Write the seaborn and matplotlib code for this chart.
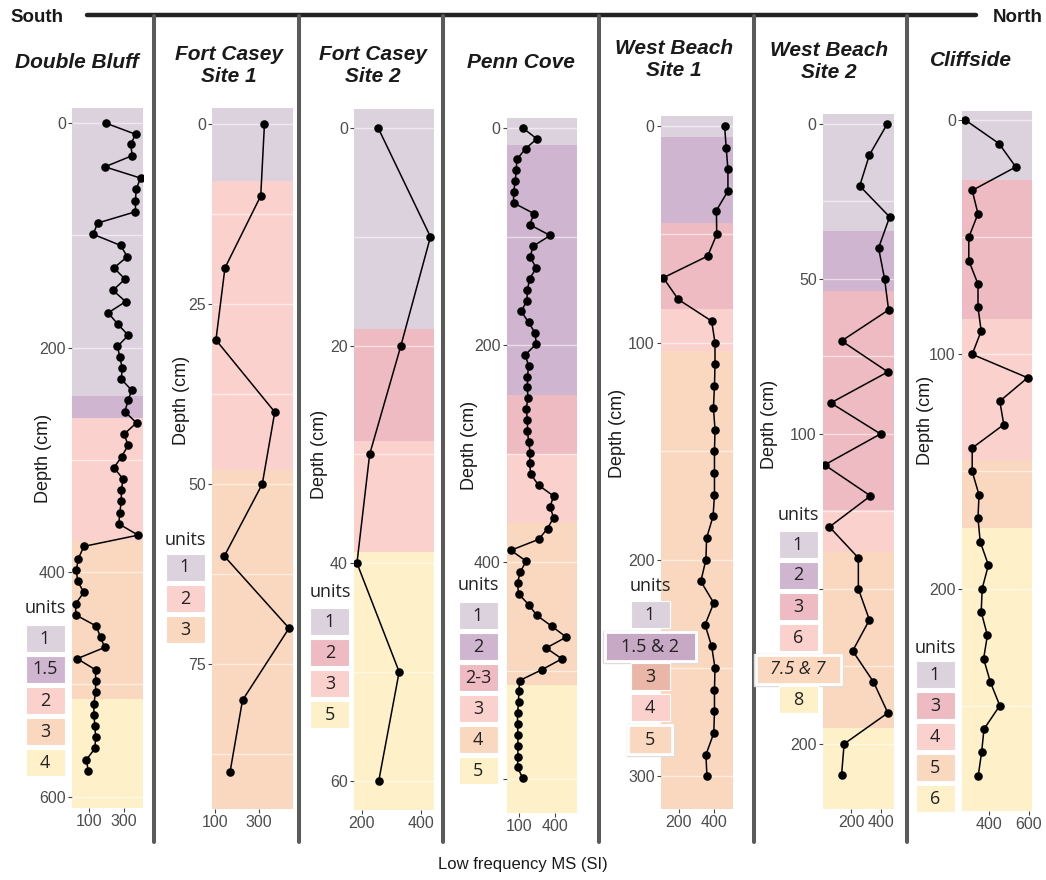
import numpy as np
import pandas as pd
import matplotlib
matplotlib.use("Agg")
import matplotlib.pyplot as plt
from matplotlib.patches import Rectangle
from matplotlib.lines import Line2D
import seaborn as sns

# ── Data: low frequency MS (SI) down each core, depth in cm ──────────
db_depth = [0, 10, 19, 29, 39, 49, 59, 69, 79, 89, 99, 109, 119, 129, 139,
            149, 159, 169, 179, 189, 199, 208, 218, 228, 238, 247, 257, 267,
            277, 287, 297, 307, 317, 327, 337, 347, 357, 367, 377, 388, 398,
            408, 418, 428, 438, 448, 458, 467, 477, 487, 497, 507, 517, 527,
            537, 547, 557, 567, 577]
db_ms = [195, 367, 338, 348, 191, 395, 370, 366, 366, 151, 123, 281, 319, 243,
         306, 237, 310, 210, 264, 325, 263, 276, 290, 285, 344, 324, 305, 372,
         301, 324, 287, 243, 295, 285, 285, 276, 271, 381, 71, 39, 28, 35, 71,
         24, 24, 142, 166, 190, 33, 138, 138, 138, 128, 128, 134, 138, 134, 85, 96]
db_breaks = [243, 263, 372, 513]
db_units = ["1", "1.5", "2", "3", "4"]

fc1_depth = [0, 10, 20, 30, 40, 50, 60, 70, 80, 90]
fc1_ms = [325, 308, 145, 104, 372, 315, 142, 437, 225, 168]
fc1_breaks = [8, 48]
fc1_units = ["1", "2", "3"]

fc2_depth = [0, 10, 20, 30, 40, 50, 60]
fc2_ms = [255, 432, 332, 226, 183, 326, 257]
fc2_breaks = [18.5, 28.8, 39]
fc2_units = ["1", "2", "3", "5"]

pc_depth = [0, 10, 19, 29, 39, 49, 59, 69, 79, 89, 99, 109, 119, 129, 139,
            149, 159, 169, 179, 189, 199, 209, 219, 229, 239, 249, 259, 269,
            279, 289, 299, 309, 319, 329, 339, 349, 359, 369, 379, 389, 399,
            409, 419, 429, 439, 449, 459, 469, 479, 489, 499, 509, 519, 529,
            539, 549, 559, 569, 579, 589, 599]
pc_ms = [130, 247, 153, 80, 75, 67, 53, 53, 225, 186, 358, 214, 192, 242, 186,
         169, 164, 117, 178, 233, 242, 150, 178, 169, 169, 172, 158, 169, 169,
         178, 192, 186, 197, 261, 386, 358, 386, 336, 261, 30, 158, 108, 86, 94,
         178, 247, 372, 492, 325, 456, 289, 103, 97, 94, 86, 86, 89, 89, 89, 86, 130]
pc_breaks = [16, 246, 300, 364, 513]
pc_units = ["1", "2", "2-3", "3", "4", "5"]

wb1_depth = [0, 10, 20, 30, 39, 50, 60, 70, 80, 90, 100, 110, 120, 130, 140,
             150, 160, 170, 180, 190, 200, 210, 220, 230, 240, 250, 260, 270,
             280, 290, 300]
wb1_ms = [461, 470, 480, 480, 414, 416, 364, 110, 196, 387, 406, 406, 403, 397,
          406, 403, 403, 403, 395, 358, 354, 325, 399, 349, 387, 406, 403, 403,
          399, 354, 360]
wb1_breaks = [5, 44.7, 84.3, 104]
wb1_units = ["1", "1.5 & 2", "3", "4", "5"]

wb2_depth = [0, 10, 20, 30, 40, 50, 60, 70, 80, 90, 100, 110, 120, 130, 140,
             150, 160, 170, 180, 190, 200, 210]
wb2_ms = [442, 323, 258, 458, 384, 424, 451, 137, 446, 65, 397, 24, 330, 56,
          249, 249, 323, 211, 350, 446, 154, 137]
wb2_breaks = [34.5, 54, 124.7, 138, 195]
wb2_units = ["1", "2", "3", "6", "7.5 & 7", "8"]

cl_depth = [0, 10, 20, 30, 40, 50, 60, 70, 80, 90, 100, 110, 120, 130, 140,
            150, 160, 170, 180, 190, 200, 210, 220, 230, 240, 250, 260, 270, 280]
cl_ms = [282, 450, 534, 316, 345, 299, 299, 345, 345, 361, 316, 593, 454, 474,
         316, 316, 350, 345, 356, 397, 366, 361, 392, 373, 407, 454, 375, 363, 346]
cl_breaks = [25.5, 85, 145, 174]
cl_units = ["1", "3", "4", "5", "6"]

# ── Colours ─────────────────────────────────────────
LAV = "#dcd2de"
PURP = "#cfb5cf"
PURP2 = "#c7a9c5"
ROSE = "#edbbc1"
PINK = "#fad1cd"
PEACH = "#fad8bf"
YELLOW = "#fef0c8"
SALMON = "#e9b6a7"

sns.set_style("white")
plt.rcParams["font.family"] = ["Liberation Sans", "DejaVu Sans"]
LEG_FONT = ["Open Sans", "DejaVu Sans"]

W, H = 1046, 880
fig = plt.figure(figsize=(W / 100, H / 100), dpi=100)


def fx(x):
    return x / W


def fy(y):
    return 1 - y / H


# ── Panel layout (pixels) and axis settings ─────────
sites = [
    dict(title="Double Bluff", tx=77, ty=63, depth=db_depth, ms=db_ms,
         breaks=db_breaks, cols=[LAV, PURP, PINK, PEACH, YELLOW],
         units=db_units, leg_cols=[LAV, PURP, PINK, PEACH, YELLOW],
         rect=(72, 143, 108, 808), xlim=(3, 409), ylim=(610, -13.4),
         xticks=[100, 300], yticks=[0, 200, 400, 600],
         ylabels=["0", "200", "400", "600"], minor=[100, 300, 500],
         ylab_x=43, ylab_y=458, leg_x=45, units_y=608, leg_top=625, wide={}),
    dict(title="Fort Casey\nSite 1", tx=229, ty=65, depth=fc1_depth, ms=fc1_ms,
         breaks=fc1_breaks, cols=[LAV, PINK, PEACH],
         units=fc1_units, leg_cols=[LAV, PINK, PEACH],
         rect=(212, 293, 108, 809), xlim=(86, 455), ylim=(95.1, -2.2),
         xticks=[100, 300], yticks=[0, 25, 50, 75],
         ylabels=["0", "25", "50", "75"], minor=[12.5, 37.5, 62.5, 87.5],
         ylab_x=182, ylab_y=400, leg_x=185, units_y=540, leg_top=554, wide={}),
    dict(title="Fort Casey\nSite 2", tx=373, ty=65, depth=fc2_depth, ms=fc2_ms,
         breaks=fc2_breaks, cols=[LAV, ROSE, PINK, YELLOW],
         units=fc2_units, leg_cols=[LAV, ROSE, PINK, YELLOW],
         rect=(354, 434, 109, 810), xlim=(173, 444), ylim=(62.7, -1.75),
         xticks=[200, 400], yticks=[0, 20, 40, 60],
         ylabels=["0", "20", "40", "60"], minor=[10, 30, 50],
         ylab_x=319, ylab_y=454, leg_x=330, units_y=592, leg_top=608, wide={}),
    dict(title="Penn Cove", tx=521, ty=63, depth=pc_depth, ms=pc_ms,
         breaks=pc_breaks, cols=[LAV, PURP, ROSE, PINK, PEACH, YELLOW],
         units=pc_units, leg_cols=[LAV, PURP, ROSE, PINK, PEACH, YELLOW],
         rect=(507, 577, 118, 813), xlim=(-2, 582), ylim=(631, -9.2),
         xticks=[100, 400], yticks=[0, 200, 400, 600],
         ylabels=["0", "200", "400", ""], minor=[100, 300, 500],
         ylab_x=470, ylab_y=445, leg_x=478, units_y=585, leg_top=602, wide={}),
    dict(title="West Beach\nSite 1", tx=674, ty=60, depth=wb1_depth, ms=wb1_ms,
         breaks=wb1_breaks, cols=[LAV, PURP, ROSE, PINK, PEACH],
         units=wb1_units, leg_cols=[LAV, PURP2, SALMON, PINK, PEACH],
         rect=(661, 733, 116, 809), xlim=(97, 509), ylim=(315, -4.6),
         xticks=[200, 400], yticks=[0, 100, 200, 300],
         ylabels=["0", "100", "200", "300"], minor=[50, 150, 250],
         ylab_x=618, ylab_y=433, leg_x=650, units_y=586, leg_top=601,
         wide={"1.5 & 2": 91, "5": 44}),
    dict(title="West Beach\nSite 2", tx=829, ty=61, depth=wb2_depth, ms=wb2_ms,
         breaks=wb2_breaks, cols=[LAV, PURP, ROSE, PINK, PEACH, YELLOW],
         units=wb2_units, leg_cols=[LAV, PURP, ROSE, PINK, PEACH, YELLOW],
         rect=(823, 894, 114, 809), xlim=(13, 487), ylim=(221, -3.2),
         xticks=[200, 400], yticks=[0, 50, 100, 150, 200],
         ylabels=["0", "50", "100", "", "200"], minor=[25, 75, 125, 175],
         ylab_x=770, ylab_y=424, leg_x=798, units_y=515, leg_top=531,
         wide={"7.5 & 7": 85}),
    dict(title="Cliffside", tx=971, ty=60, depth=cl_depth, ms=cl_ms,
         breaks=cl_breaks, cols=[LAV, ROSE, PINK, PEACH, YELLOW],
         units=cl_units, leg_cols=[LAV, ROSE, PINK, PEACH, YELLOW],
         rect=(962, 1032, 111, 811), xlim=(265, 615), ylim=(295, -3.9),
         xticks=[400, 600], yticks=[0, 100, 200],
         ylabels=["0", "100", "200"], minor=[50, 150, 250],
         ylab_x=925, ylab_y=420, leg_x=935, units_y=648, leg_top=661, wide={}),
]

for s in sites:
    x0, x1, y0, y1 = s["rect"]
    ax = fig.add_axes([fx(x0), fy(y1), (x1 - x0) / W, (y1 - y0) / H])
    ax.set_facecolor("white")

    # unit bands behind the curve
    top, bottom = s["ylim"][1], s["ylim"][0]
    edges = [top] + s["breaks"] + [bottom]
    for lo, hi, c in zip(edges[:-1], edges[1:], s["cols"]):
        ax.axhspan(lo, hi, color=c, lw=0, zorder=0)
    for v in s["yticks"] + s["minor"]:
        ax.axhline(v, color="white", lw=1.0, alpha=0.55, zorder=1)

    df = pd.DataFrame({"depth": s["depth"], "ms": s["ms"]})
    sns.lineplot(data=df, x="ms", y="depth", sort=False, estimator=None,
                 color="black", lw=1.1, ax=ax, zorder=3)
    sns.scatterplot(data=df, x="ms", y="depth", color="black", s=38,
                    linewidth=0, ax=ax, zorder=4)

    ax.set_xlim(s["xlim"])
    ax.set_ylim(s["ylim"])
    ax.set_xticks(s["xticks"])
    ax.set_yticks(s["yticks"], s["ylabels"])
    ax.set_xlabel("")
    ax.set_ylabel("")
    sns.despine(ax=ax, left=True, bottom=True)
    ax.tick_params(left=True, bottom=True, length=3, width=0.8,
                   color="#444444", labelcolor="#4d4d4d", labelsize=11.5,
                   pad=1.5)

    # titles and axis titles
    fig.text(fx(s["tx"]), fy(s["ty"]), s["title"], ha="center", va="center",
             fontsize=15, fontweight="bold", style="italic",
             color="#1a1a1a", linespacing=1.2)
    fig.text(fx(s["ylab_x"]), fy(s["ylab_y"]), "Depth (cm)", rotation=90,
             ha="center", va="center", fontsize=13, color="#1a1a1a")

    # unit legend
    fig.text(fx(s["leg_x"]), fy(s["units_y"]), "units", ha="center",
             va="center", fontsize=13, family=LEG_FONT, color="#222222")
    for i, (lab, c) in enumerate(zip(s["units"], s["leg_cols"])):
        w = s["wide"].get(lab, 39)
        h = 29 if lab in s["wide"] else 27
        by = s["leg_top"] + i * 31
        bx = s["leg_x"] - w / 2
        if lab in s["wide"]:
            fig.add_artist(Rectangle((fx(bx - 1.5), fy(by + h + 1.5)),
                                     (w + 3) / W, (h + 3) / H,
                                     transform=fig.transFigure,
                                     facecolor="none", edgecolor="#dddddd",
                                     lw=1, zorder=5))
            fig.add_artist(Rectangle((fx(bx), fy(by + h)), w / W, h / H,
                                     transform=fig.transFigure, facecolor=c,
                                     edgecolor="white", lw=2, zorder=5))
        else:
            fig.add_artist(Rectangle((fx(bx), fy(by + h)), w / W, h / H,
                                     transform=fig.transFigure, facecolor=c,
                                     edgecolor="white", lw=0.8, zorder=5))
        fig.text(fx(s["leg_x"]), fy(by + h / 2), lab, ha="center", va="center",
                 fontsize=13, family=LEG_FONT, color="#222222", zorder=6,
                 style="italic" if lab == "7.5 & 7" else "normal")

# ── South → North frame ────────────────────────────
fig.add_artist(Line2D([fx(87), fx(976)], [fy(15), fy(15)],
                      transform=fig.transFigure, color="#222222", lw=3.2))
for sx in [154, 299, 443, 599, 754, 907]:
    fig.add_artist(Line2D([fx(sx), fx(sx)], [fy(16), fy(842)],
                          transform=fig.transFigure, color="#5a5a5a", lw=2.9))
fig.text(fx(10), fy(18), "South", ha="left", va="center", fontsize=13.5,
         fontweight="bold", color="#1a1a1a")
fig.text(fx(1043), fy(18), "North", ha="right", va="center", fontsize=13.5,
         fontweight="bold", color="#1a1a1a")
fig.text(fx(523), fy(864), "Low frequency MS (SI)", ha="center", va="center",
         fontsize=12, color="#1a1a1a")

fig.savefig("out.png", dpi=100, facecolor="white")
